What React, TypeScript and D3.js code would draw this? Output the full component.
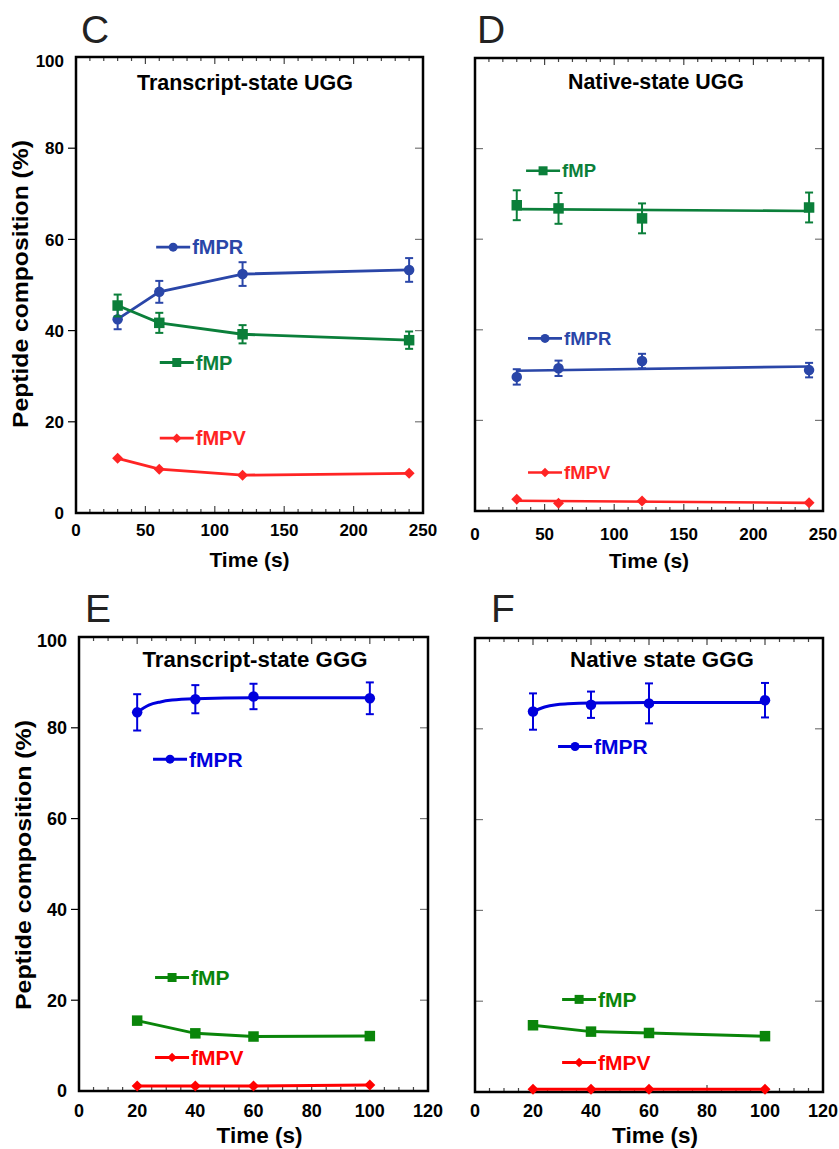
import React from 'react';
import * as d3 from 'd3';

// time points (s)
const uggTimes = [30, 60, 120, 240];
const gggTimes = [20, 40, 60, 100];
const yTicks = [0, 20, 40, 60, 80, 100];

// C - transcript-state UGG
const cMPR = [42.5, 48.5, 52.4, 53.3];
const cMPRErr = [2.2, 2.4, 2.6, 2.6];
const cMP = [45.5, 41.7, 39.2, 37.9];
const cMPErr = [2.4, 2.2, 2.0, 1.9];
const cMPV = [12.0, 9.6, 8.3, 8.7];

// D - native-state UGG
const dMP = [67.5, 66.8, 64.6, 67.0];
const dMPErr = [3.3, 3.4, 3.3, 3.3];
const dMPR = [29.6, 31.5, 33.1, 31.1];
const dMPRErr = [1.7, 1.7, 1.6, 1.6];
const dMPV = [2.6, 1.7, 2.2, 1.8];

// E - transcript-state GGG
const eMPR = [83.4, 86.3, 86.9, 86.5];
const eMPRErr = [4.0, 3.1, 2.8, 3.5];
const eMP = [15.5, 12.7, 12.0, 12.1];
const eMPErr = [0.6, 0, 0, 0];
const eMPV = [1.1, 1.1, 1.1, 1.3];

// fitted curves for fMPR
const fitTimes = [20, 24, 28, 32, 40, 60, 100];
const eMPRFit = [83.4, 85.0, 85.7, 86.1, 86.4, 86.6, 86.6];

// F - native state GGG
const fMPR = [83.8, 85.3, 85.6, 86.3];
const fMPRErr = [4.0, 2.9, 4.4, 3.8];
const fMPRFit = [83.8, 84.8, 85.3, 85.5, 85.7, 85.8, 85.8];
const fMP = [14.7, 13.3, 13.0, 12.3];
const fMPV = [0.6, 0.6, 0.6, 0.6];

const FONT = "'Liberation Sans', Arial, sans-serif";

// least squares line through the points
const linFit = (xs: number[], ys: number[]) => {
  const mx = d3.mean(xs) as number;
  const my = d3.mean(ys) as number;
  let sxy = 0, sxx = 0;
  xs.forEach((v, i) => { sxy += (v - mx) * (ys[i] - my); sxx += (v - mx) ** 2 });
  const b = sxy / sxx;
  return (t: number) => my + b * (t - mx);
};

const markerPath = (shape: string, s: number) => {
  if (shape === 'circle') return d3.symbol(d3.symbolCircle, Math.PI * s * s / 4)()
  return d3.symbol(d3.symbolSquare, shape === 'diamond' ? s * s * 0.55 : s * s)()
};

const Marker = ({ shape, cx, cy, s, color }: any) => (
  <path d={markerPath(shape, s) as string} fill={color}
    transform={`translate(${cx},${cy})${shape === 'diamond' ? ' rotate(45)' : ''}`} />
);

const Panel = ({ cfg }: any) => {
  const x = d3.scaleLinear().domain([0, cfg.xMax]).range([cfg.left, cfg.right]);
  const y = d3.scaleLinear().domain([0, 100]).range([cfg.bottom, cfg.top]);
  const minor = d3.range(cfg.xMinor, cfg.xMax, cfg.xMinor);
  const xLabels = d3.range(0, cfg.xMax + 1, cfg.xMajor);
  const line = d3.line<[number, number]>().x(d => x(d[0])).y(d => y(d[1]));

  return (
    <g fontFamily={FONT}>
      <text x={cfg.letterX} y={cfg.letterY} fontSize={39} fill="#222">{cfg.letter}</text>

      {/* ticks */}
      {minor.map(t => {
        const len = Math.abs(t % cfg.xMajor) < 1e-6 ? 7 : 4;
        return <g key={t} stroke="#444" strokeWidth={1.2}>
          <line x1={x(t)} x2={x(t)} y1={cfg.bottom} y2={cfg.bottom - len} />
          <line x1={x(t)} x2={x(t)} y1={cfg.top} y2={cfg.top + len} />
        </g>
      })}
      {yTicks.slice(1, -1).map(v => (
        <g key={v} strokeWidth={1.2}>
          {cfg.yLabels
            ? <line x1={cfg.left - 8} x2={cfg.left} y1={y(v)} y2={y(v)} stroke="#000" />
            : <line x1={cfg.left} x2={cfg.left + 8} y1={y(v)} y2={y(v)} stroke="#777" />}
          <line x1={cfg.right - 8} x2={cfg.right} y1={y(v)} y2={y(v)} stroke="#777" />
        </g>
      ))}
      <rect x={cfg.left} y={cfg.top} width={cfg.right - cfg.left} height={cfg.bottom - cfg.top}
        fill="none" stroke="#000" strokeWidth={2.5} />

      {/* tick labels */}
      {cfg.yLabels && yTicks.map(v => (
        <text key={v} x={cfg.left - 12} y={y(v) + (v === 100 ? 4 : 0)} dy="0.36em" textAnchor="end"
          fontSize={cfg.tickFont} fontWeight="bold">{v}</text>
      ))}
      {xLabels.map(t => (
        <text key={t} x={x(t)} y={cfg.bottom + cfg.xTickDy} textAnchor="middle"
          fontSize={cfg.tickFont} fontWeight="bold">{t}</text>
      ))}
      <text x={(cfg.left + cfg.right) / 2 + cfg.xTitleShift} y={cfg.xTitleY} textAnchor="middle"
        fontSize={cfg.xTitleSize} fontWeight="bold">Time (s)</text>
      {cfg.yLabels && (
        <text transform={`translate(${cfg.yTitleX},${cfg.yTitleY}) rotate(-90)`} textAnchor="middle"
          fontSize={22} fontWeight="bold" textLength={cfg.yTitleLen} lengthAdjust="spacingAndGlyphs">
          Peptide composition (%)
        </text>
      )}
      <text x={cfg.titleX} y={cfg.titleY} textAnchor="middle" fontSize={cfg.titleSize} fontWeight="bold"
        textLength={cfg.titleLen} lengthAdjust="spacingAndGlyphs">{cfg.title}</text>

      {/* series */}
      {cfg.series.map((s: any) => {
        let d: string | null;
        if (s.fit === 'linear') {
          const f = linFit(cfg.times, s.values);
          const t0 = cfg.times[0], t1 = cfg.times[cfg.times.length - 1];
          d = line([[t0, f(t0)], [t1, f(t1)]]);
        } else if (s.fitValues) {
          d = line.curve(d3.curveMonotoneX)(fitTimes.map((t, i) => [t, s.fitValues[i]] as [number, number]));
          line.curve(d3.curveLinear);
        } else {
          d = line(cfg.times.map((t: number, i: number) => [t, s.values[i]] as [number, number]));
        }
        const lx = x(s.legend[0]), ly = y(s.legend[1]);
        return (
          <g key={s.name}>
            <path d={d as string} fill="none" stroke={s.color} strokeWidth={cfg.lineW} />
            {s.err && cfg.times.map((t: number, i: number) => s.err[i] > 0 && (
              <g key={t} stroke={s.color} strokeWidth={2}>
                <line x1={x(t)} x2={x(t)} y1={y(s.values[i] - s.err[i])} y2={y(s.values[i] + s.err[i])} />
                <line x1={x(t) - 4} x2={x(t) + 4} y1={y(s.values[i] - s.err[i])} y2={y(s.values[i] - s.err[i])} />
                <line x1={x(t) - 4} x2={x(t) + 4} y1={y(s.values[i] + s.err[i])} y2={y(s.values[i] + s.err[i])} />
              </g>
            ))}
            {cfg.times.map((t: number, i: number) => (
              <Marker key={t} shape={s.shape} cx={x(t)} cy={y(s.values[i])} s={cfg.markerSize} color={s.color} />
            ))}
            <line x1={lx - 17} x2={lx + 17} y1={ly} y2={ly} stroke={s.color} strokeWidth={cfg.lineW} />
            <Marker shape={s.shape} cx={lx} cy={ly} s={cfg.markerSize - 1.5} color={s.color} />
            <text x={lx + 19} y={ly} dy="0.36em" fill={s.color} fontSize={cfg.legendFont} fontWeight="bold">{s.name}</text>
          </g>
        )
      })}
    </g>
  )
};

const blueA = '#2a46a8', greenA = '#0b7f3a', redA = '#ff2424';
const blueB = '#0000dd', greenB = '#0a850a', redB = '#ff0000';

const panels = [
  {
    letter: 'C', letterX: 81, letterY: 43, left: 76, right: 423, top: 57, bottom: 513,
    xMax: 250, xMinor: 10, xMajor: 50, times: uggTimes, yLabels: true,
    tickFont: 17, xTickDy: 23, xTitleY: 567, xTitleSize: 21, xTitleShift: 0,
    yTitleX: 28, yTitleY: 284, yTitleLen: 288,
    title: 'Transcript-state UGG', titleX: 245, titleY: 90, titleSize: 21.5, titleLen: 216,
    lineW: 2.8, markerSize: 10.5, legendFont: 20,
    series: [
      { name: 'fMPR', color: blueA, shape: 'circle', values: cMPR, err: cMPRErr, legend: [70, 58.3] },
      { name: 'fMP', color: greenA, shape: 'square', values: cMP, err: cMPErr, legend: [72.6, 33] },
      { name: 'fMPV', color: redA, shape: 'diamond', values: cMPV, legend: [72.6, 16.4] },
    ],
  },
  {
    letter: 'D', letterX: 477, letterY: 43, left: 475, right: 823, top: 58, bottom: 511,
    xMax: 250, xMinor: 10, xMajor: 50, times: uggTimes, yLabels: false,
    tickFont: 17, xTickDy: 29, xTitleY: 568, xTitleSize: 21, xTitleShift: 0,
    title: 'Native-state UGG', titleX: 656, titleY: 89, titleSize: 21.5, titleLen: 176,
    lineW: 2.6, markerSize: 10.5, legendFont: 18.5,
    series: [
      { name: 'fMP', color: greenA, shape: 'square', values: dMP, err: dMPErr, fit: 'linear', legend: [48.9, 75.1] },
      { name: 'fMPR', color: blueA, shape: 'circle', values: dMPR, err: dMPRErr, fit: 'linear', legend: [50.3, 38.1] },
      { name: 'fMPV', color: redA, shape: 'diamond', values: dMPV, fit: 'linear', legend: [50.3, 8.5] },
    ],
  },
  {
    letter: 'E', letterX: 85, letterY: 622, left: 79, right: 428, top: 637, bottom: 1091,
    xMax: 120, xMinor: 5, xMajor: 20, times: gggTimes, yLabels: true,
    tickFont: 18, xTickDy: 26, xTitleY: 1143, xTitleSize: 22.5, xTitleShift: 6,
    yTitleX: 31, yTitleY: 865, yTitleLen: 290,
    title: 'Transcript-state GGG', titleX: 255, titleY: 667, titleSize: 22, titleLen: 225,
    lineW: 3, markerSize: 10.5, legendFont: 21,
    series: [
      { name: 'fMPR', color: blueB, shape: 'circle', values: eMPR, err: eMPRErr, fitValues: eMPRFit, legend: [31.3, 73.1] },
      { name: 'fMP', color: greenB, shape: 'square', values: eMP, err: eMPErr, legend: [32, 25.0] },
      { name: 'fMPV', color: redB, shape: 'diamond', values: eMPV, legend: [32, 7.4] },
    ],
  },
  {
    letter: 'F', letterX: 491, letterY: 622, left: 475, right: 823, top: 638, bottom: 1092,
    xMax: 120, xMinor: 5, xMajor: 20, times: gggTimes, yLabels: false,
    tickFont: 18, xTickDy: 25, xTitleY: 1143, xTitleSize: 22.5, xTitleShift: 6,
    title: 'Native state GGG', titleX: 662, titleY: 667, titleSize: 22, titleLen: 184,
    lineW: 3, markerSize: 10.5, legendFont: 21,
    series: [
      { name: 'fMPR', color: blueB, shape: 'circle', values: fMPR, err: fMPRErr, fitValues: fMPRFit, legend: [34.5, 76.1] },
      { name: 'fMP', color: greenB, shape: 'square', values: fMP, legend: [35.9, 20.4] },
      { name: 'fMPV', color: redB, shape: 'diamond', values: fMPV, legend: [35.9, 6.5] },
    ],
  },
];

export default function App() {
  return (
    <svg width={839} height={1149} style={{ position: 'absolute', left: 0, top: 0, background: '#fff' }}>
      {panels.map(p => <Panel key={p.letter} cfg={p} />)}
    </svg>
  )
}
